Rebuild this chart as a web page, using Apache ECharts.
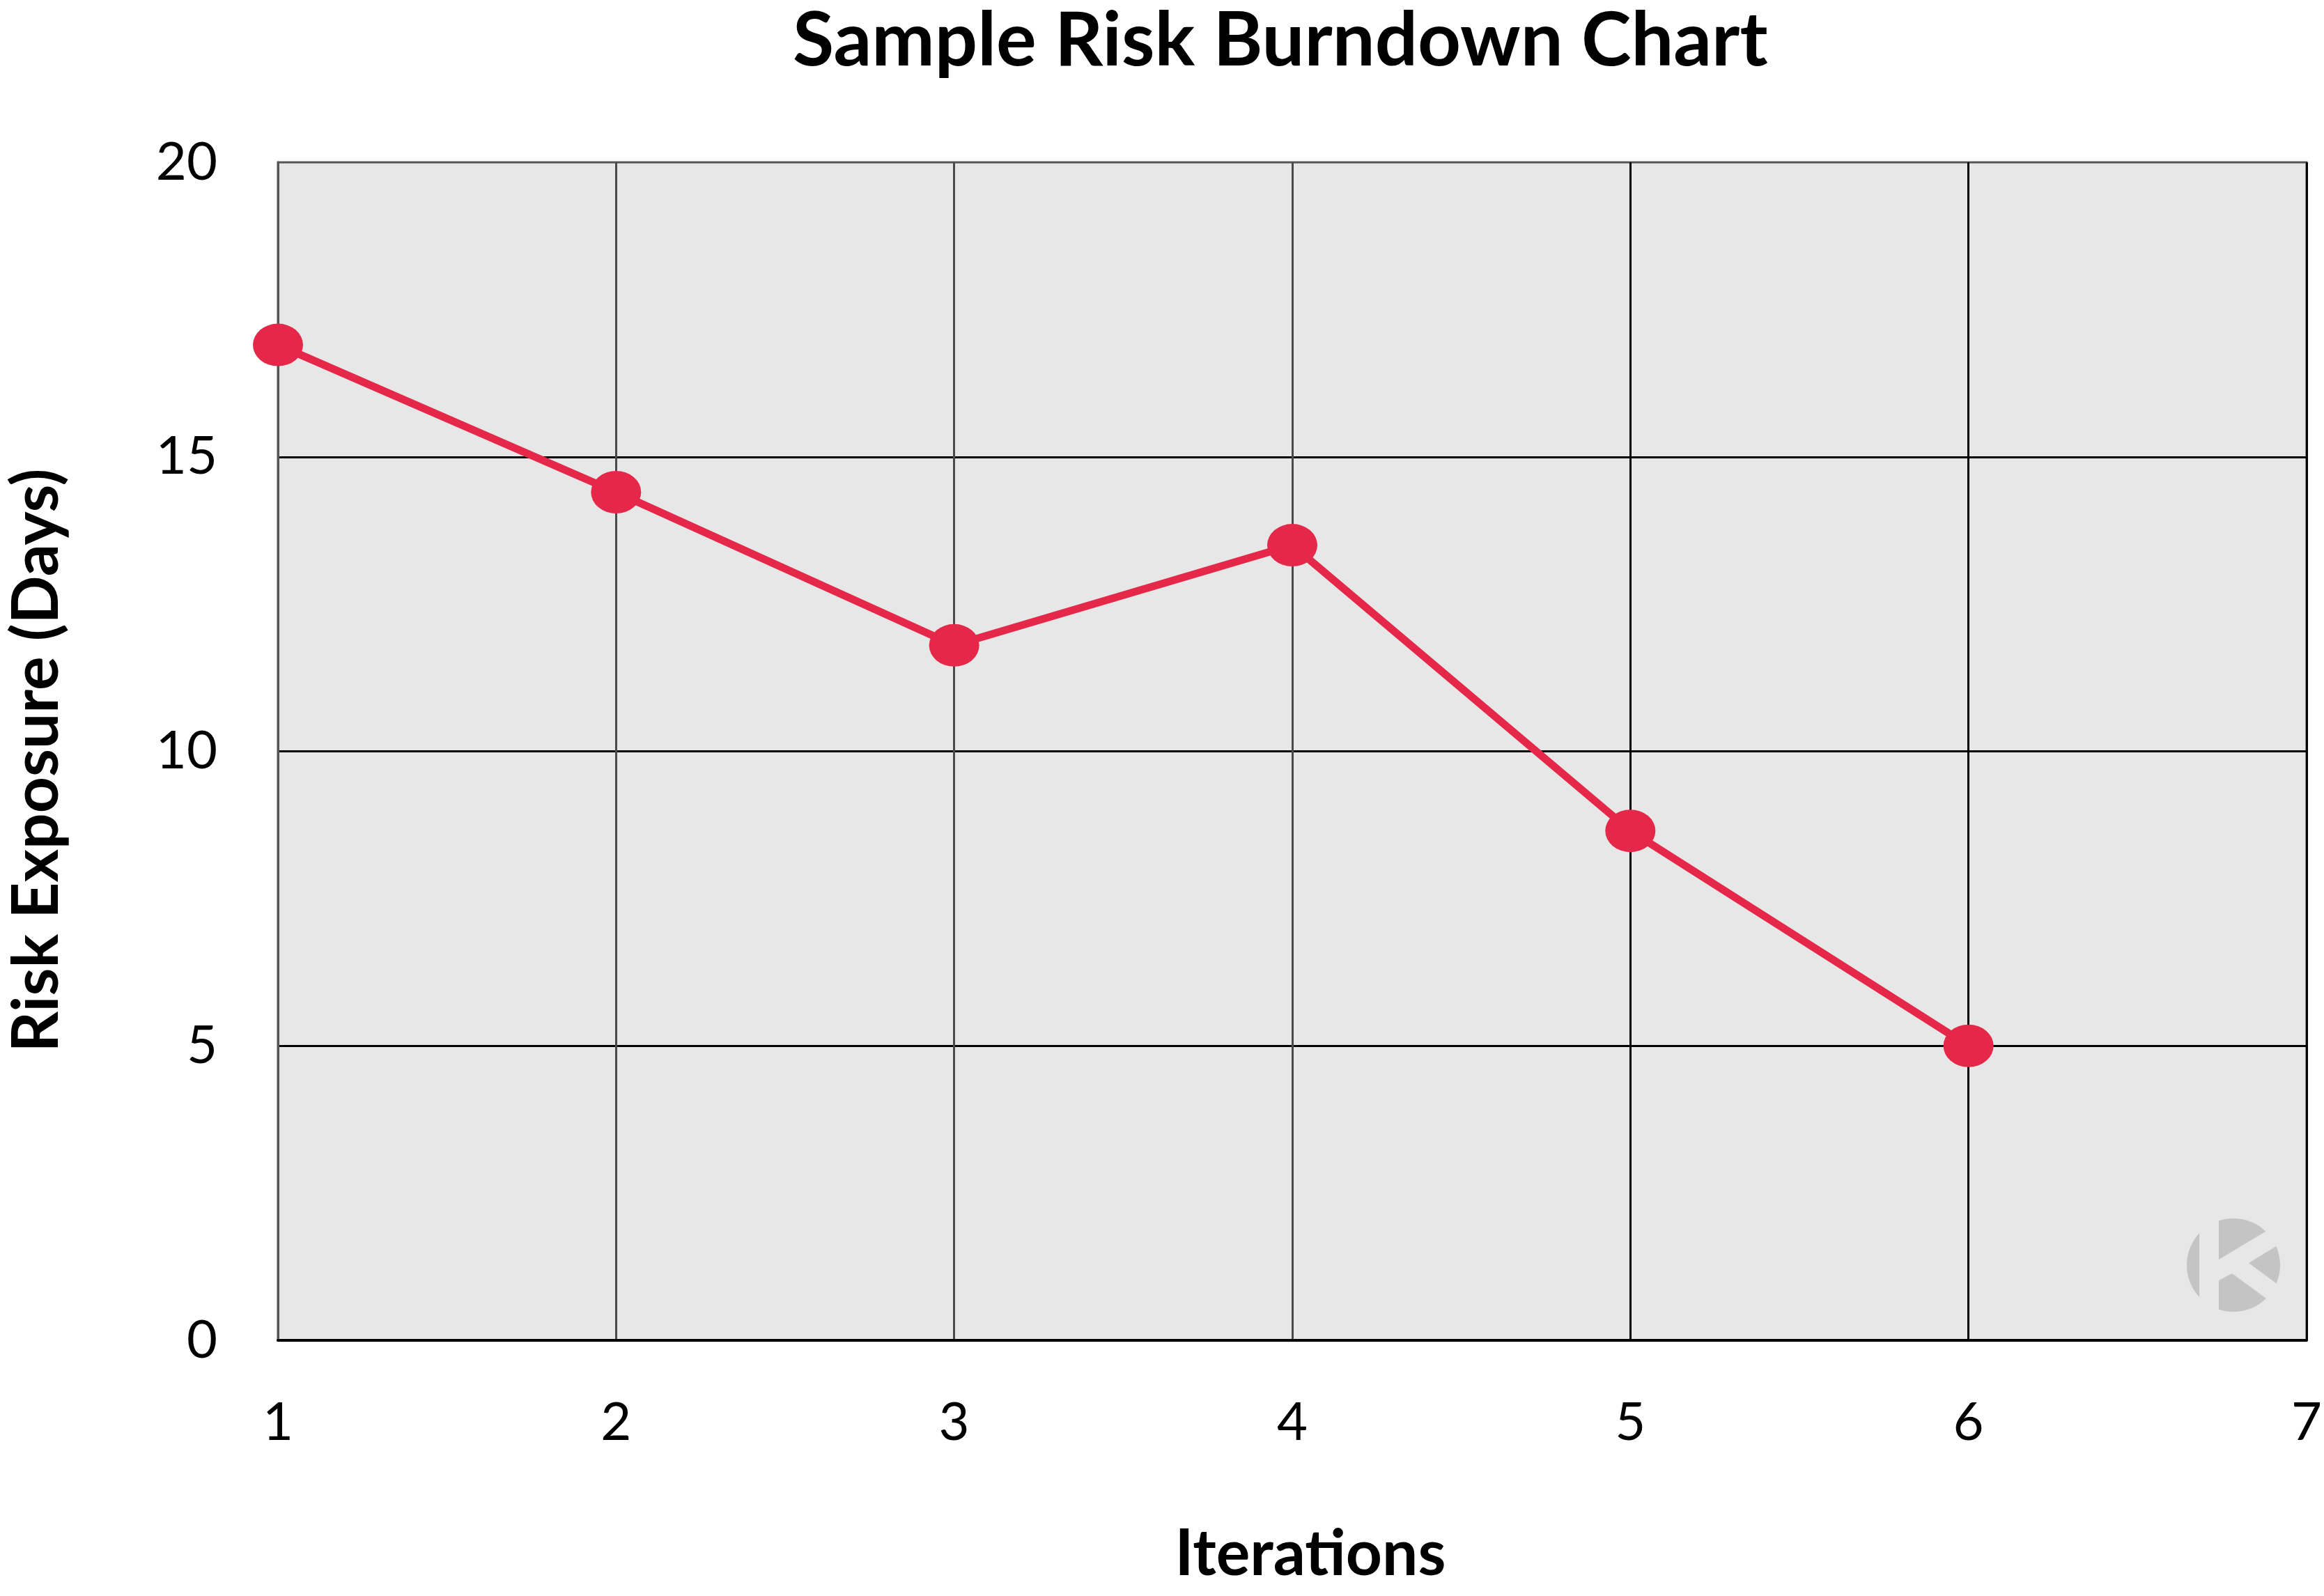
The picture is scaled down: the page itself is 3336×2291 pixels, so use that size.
<!DOCTYPE html>
<html>
<head>
<meta charset="utf-8">
<script src="https://cdn.jsdelivr.net/npm/echarts@6/dist/echarts.min.js"></script>
<style>
html,body{margin:0;padding:0;background:#fff;}
#chart{width:3336px;height:2291px;}
</style>
</head>
<body>
<div id="chart"></div>
<script>
const titleText = 'Sample Risk Burndown Chart';
const xAxisName = 'Iterations';
const yAxisName = 'Risk Exposure (Days)';
const iterations = [1, 2, 3, 4, 5, 6];
const riskExposure = [16.9, 14.4, 11.8, 13.5, 8.65, 5];
const xTicks = [1, 2, 3, 4, 5, 6, 7];
const yTicks = [0, 5, 10, 15, 20];

const FONT = 'Lato';
const seriesData = iterations.map((x, i) => [x, riskExposure[i]]);

const chart = echarts.init(document.getElementById('chart'), null, {renderer: 'canvas'});
chart.setOption({
  backgroundColor: '#ffffff',
  animation: false,
  title: {
    text: titleText,
    left: 1138,
    top: 5,
    padding: 0,
    textStyle: {fontFamily: FONT, fontWeight: 'bold', fontSize: 108, color: '#000'}
  },
  grid: {
    left: 399, right: 25, top: 233, bottom: 367,
    show: true,
    backgroundColor: '#e7e7e7',
    borderColor: '#555555',
    borderWidth: 3
  },
  xAxis: {
    type: 'value',
    min: xTicks[0], max: xTicks[xTicks.length - 1], interval: 1,
    name: xAxisName,
    nameLocation: 'middle',
    nameGap: 262,
    nameTextStyle: {fontFamily: FONT, fontWeight: 'bold', fontSize: 91, color: '#000', padding: [0, 0, 0, 52]},
    axisLine: {show: true, lineStyle: {color: '#000', width: 4}},
    axisTick: {show: false},
    axisLabel: {fontFamily: FONT, fontSize: 76, color: '#000', margin: 80},
    splitLine: {
      show: true,
      lineStyle: {color: ['#555555', '#4a4a4a', '#4a4a4a', '#4a4a4a', '#000000', '#000000', '#000000'], width: 3}
    }
  },
  yAxis: {
    type: 'value',
    min: yTicks[0], max: yTicks[yTicks.length - 1], interval: 5,
    name: yAxisName,
    nameLocation: 'middle',
    nameGap: 300,
    nameRotate: 90,
    nameTextStyle: {fontFamily: FONT, fontWeight: 'bold', fontSize: 91, color: '#000', padding: [0, 26, 0, 0]},
    axisLine: {show: true, lineStyle: {color: '#555555', width: 3}},
    axisTick: {show: false},
    axisLabel: {fontFamily: FONT, fontSize: 76, color: '#000', margin: 87},
    splitLine: {show: true, showMinLine: false, showMaxLine: false, lineStyle: {color: '#000', width: 3}}
  },
  graphic: [
    {type: 'circle', z: 1, silent: true, shape: {cx: 3206, cy: 1816, r: 67}, style: {fill: '#c4c4c4'}},
    {type: 'rect', z: 2, silent: true, shape: {x: 3157, y: 1745, width: 28, height: 145}, style: {fill: '#e7e7e7'}},
    {type: 'polygon', z: 2, silent: true, shape: {points: [[3185,1808],[3290,1745],[3290,1775],[3228,1813],[3290,1859],[3290,1891],[3204,1828],[3185,1838]]}, style: {fill: '#e7e7e7'}}
  ],
  series: [{
    type: 'line',
    data: seriesData,
    z: 5,
    lineStyle: {color: '#e5284a', width: 11},
    itemStyle: {color: '#e5284a'},
    symbol: 'path://M0,50 A50,50 0 1,1 100,50 A50,50 0 1,1 0,50 Z',
    symbolSize: [72, 61],
    symbolKeepAspect: false,
    showSymbol: true,
    clip: false
  }]
});
</script>
</body>
</html>
